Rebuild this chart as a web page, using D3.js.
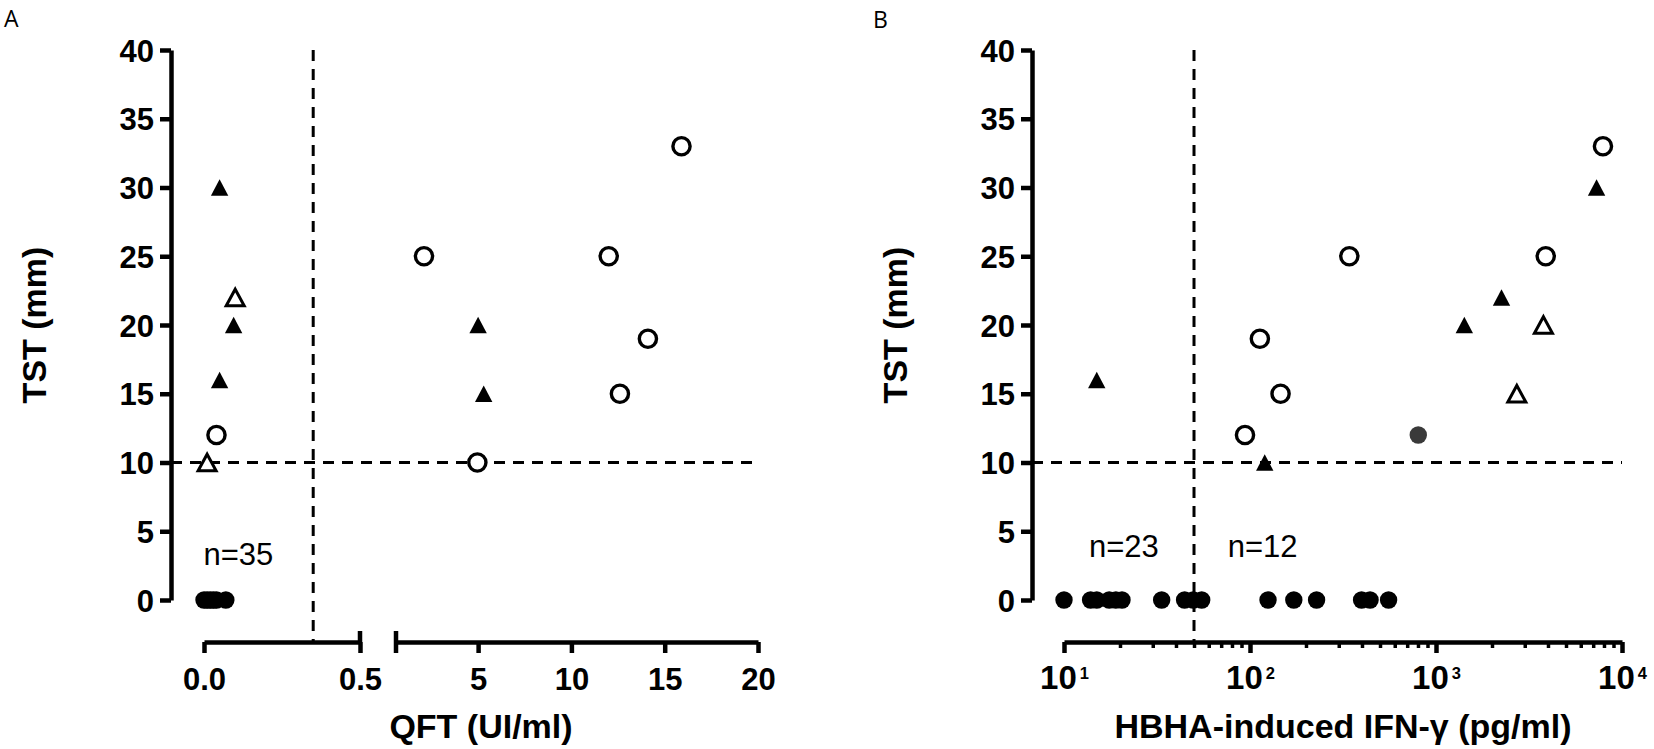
<!DOCTYPE html>
<html lang="en">
  <head>
    <meta charset="UTF-8" />
    <title>TST vs QFT and HBHA</title>
    <style>
      body { margin: 0; background: #fff; }
      svg { font-family: "Liberation Sans", Arial, sans-serif; }
      .axis path, .axis line { stroke: #000; stroke-width: 4.5; }
      .axis text { font-size: 31px; font-weight: bold; fill: #000; }
      .axis.log text { font-size: 33px; }
      .minor line { stroke: #000; stroke-width: 3.5; }
      .cut { stroke: #000; stroke-width: 3; stroke-dasharray: 11 8; fill: none; }
      .title { font-size: 34px; font-weight: bold; }
      .note { font-size: 31px; }
      .letter { font-family: "Open Sans", sans-serif; font-size: 23px; }
    </style>
  </head>
  <body>
    <svg id="chart" width="1654" height="749"></svg>
    <script src="https://cdn.jsdelivr.net/npm/d3@7"></script>
    <script>
      // TST (mm) ticks, shared by both panels
      const tstTicks = [0, 5, 10, 15, 20, 25, 30, 35, 40];

      // panel A : QFT (UI/ml) , [qft, tst]
      const qftZero = [[0, 0], [0.01, 0], [0.02, 0], [0.03, 0], [0.04, 0], [0.07, 0]];
      const qftOpenCircle = [[0.04, 12], [2.1, 25], [4.96, 10], [12, 25], [12.6, 15], [14.1, 19], [15.9, 33]];
      const qftFilledTri = [[0.05, 30], [0.095, 20], [0.05, 16], [5, 20], [5.3, 15]];
      const qftOpenTri = [[0.1, 22], [0.01, 10]];
      const qftLowTicks = [0, 0.5];
      const qftHighTicks = [5, 10, 15, 20];
      const qftCutoff = 0.35;

      // panel B : HBHA-induced IFN-g (pg/ml), [ifn, tst]
      const hbhaZero = [[10, 0], [13.9, 0], [15, 0], [17.5, 0], [19, 0], [20.5, 0], [33.5, 0], [44.5, 0],
        [49.5, 0], [55, 0], [125, 0], [172, 0], [228, 0], [398, 0], [442, 0], [556, 0]];
      const hbhaOpenCircle = [[7900, 33], [342, 25], [3890, 25], [113, 19], [146, 15], [94, 12]];
      const hbhaFilledTri = [[7300, 30], [2250, 22], [1420, 20], [120, 10], [15, 16]];
      const hbhaOpenTri = [[3780, 20], [2720, 15]];
      const hbhaGreyCircle = [[803, 12]];
      const hbhaTicks = [10, 100, 1000, 10000];
      const hbhaCutoff = 50;
      const tstCutoff = 10;

      const svg = d3.select("#chart");

      const y = d3.scaleLinear().domain([0, 40]).range([600, 50]);
      const axisY = 642;

      const triPath = (w, h) => `M0,${-h / 2}L${w},${h / 2}L${-w},${h / 2}Z`;

      const drawPoints = (g, data, fx, kind) => {
        let sel = g.append("g").selectAll("path").data(data).enter();
        if (kind === "dot" || kind === "grey") {
          sel.append("circle")
            .attr("cx", (d) => fx(d[0])).attr("cy", (d) => y(d[1]))
            .attr("r", 8.7)
            .attr("fill", kind === "grey" ? "#3a3a3a" : "#000");
        } else if (kind === "ring") {
          sel.append("circle")
            .attr("cx", (d) => fx(d[0])).attr("cy", (d) => y(d[1]))
            .attr("r", 8.6)
            .attr("fill", "#fff").attr("stroke", "#000").attr("stroke-width", 3.4);
        } else if (kind === "tri") {
          sel.append("path")
            .attr("d", triPath(8.7, 16.5))
            .attr("transform", (d) => `translate(${fx(d[0])},${y(d[1])})`)
            .attr("fill", "#000");
        } else {
          sel.append("path")
            .attr("d", triPath(9, 16.5))
            .attr("transform", (d) => `translate(${fx(d[0])},${y(d[1])})`)
            .attr("fill", "#fff").attr("stroke", "#000").attr("stroke-width", 3)
            .attr("stroke-linejoin", "miter");
        }
      };

      const drawYAxis = (x0, titleX) => {
        svg.append("g").attr("class", "axis")
          .attr("transform", `translate(${x0},0)`)
          .call(d3.axisLeft(y).tickValues(tstTicks).tickSize(11).tickSizeOuter(0).tickPadding(6))
          .call((g) => g.selectAll("text").attr("dy", "0.36em"));
        svg.append("text").attr("class", "title")
          .attr("transform", `translate(${titleX},${(y(0) + y(40)) / 2}) rotate(-90)`)
          .attr("text-anchor", "middle")
          .text("TST (mm)");
      };

      // ---------- panel A ----------
      const xLow = d3.scaleLinear().domain([0, 0.5]).range([204, 360]);
      const xHigh = d3.scaleLinear().domain([0.6, 20]).range([396, 758]);
      const qx = (v) => (v <= 0.5 ? xLow(v) : xHigh(v));
      const gA = svg.append("g");

      gA.append("line").attr("class", "cut")
        .attr("x1", 171).attr("x2", xHigh(20))
        .attr("y1", y(tstCutoff)).attr("y2", y(tstCutoff));
      gA.append("line").attr("class", "cut")
        .attr("x1", xLow(qftCutoff)).attr("x2", xLow(qftCutoff))
        .attr("y1", y(40)).attr("y2", axisY);

      drawPoints(gA, qftZero, qx, "dot");
      drawPoints(gA, qftOpenCircle, qx, "ring");
      drawPoints(gA, qftFilledTri, qx, "tri");
      drawPoints(gA, qftOpenTri, qx, "otri");

      drawYAxis(171, 46);

      const axLow = svg.append("g").attr("class", "axis")
        .attr("transform", `translate(0,${axisY})`)
        .call(d3.axisBottom(xLow).tickValues(qftLowTicks).tickFormat(d3.format(".1f"))
          .tickSize(11).tickSizeOuter(0).tickPadding(15));
      axLow.append("line").attr("x1", xLow(0.5)).attr("x2", xLow(0.5)).attr("y1", -11).attr("y2", 0);

      const axHigh = svg.append("g").attr("class", "axis")
        .attr("transform", `translate(0,${axisY})`)
        .call(d3.axisBottom(xHigh).tickValues(qftHighTicks).tickFormat(d3.format("d"))
          .tickSize(11).tickSizeOuter(0).tickPadding(15));
      axHigh.append("line").attr("x1", xHigh(0.6)).attr("x2", xHigh(0.6)).attr("y1", -11).attr("y2", 11);

      svg.append("text").attr("class", "title")
        .attr("x", (xLow(0) + xHigh(20)) / 2).attr("y", 738)
        .attr("text-anchor", "middle").text("QFT (UI/ml)");
      svg.append("text").attr("class", "note")
        .attr("x", xLow(0.11)).attr("y", y(2.55))
        .attr("text-anchor", "middle").text("n=35");
      svg.append("text").attr("class", "letter").attr("x", 4).attr("y", 27).text("A");

      // ---------- panel B ----------
      const xB = d3.scaleLog().domain([10, 10000]).range([1064, 1622]);
      const gB = svg.append("g");

      gB.append("line").attr("class", "cut")
        .attr("x1", 1032).attr("x2", xB(10000))
        .attr("y1", y(tstCutoff)).attr("y2", y(tstCutoff));
      gB.append("line").attr("class", "cut")
        .attr("x1", xB(hbhaCutoff)).attr("x2", xB(hbhaCutoff))
        .attr("y1", y(40)).attr("y2", axisY);

      drawPoints(gB, hbhaZero, xB, "dot");
      drawPoints(gB, hbhaOpenCircle, xB, "ring");
      drawPoints(gB, hbhaFilledTri, xB, "tri");
      drawPoints(gB, hbhaOpenTri, xB, "otri");
      drawPoints(gB, hbhaGreyCircle, xB, "grey");

      drawYAxis(1032, 907);

      const minorTicks = [];
      hbhaTicks.slice(0, 3).forEach((d) => {
        for (let k = 2; k <= 9; k++) minorTicks.push(k * d);
      });
      svg.append("g").attr("class", "axis minor")
        .attr("transform", `translate(0,${axisY})`)
        .call(d3.axisBottom(xB).tickValues(minorTicks).tickFormat("").tickSize(6).tickSizeOuter(0))
        .call((g) => g.select(".domain").remove());

      svg.append("g").attr("class", "axis log")
        .attr("transform", `translate(0,${axisY})`)
        .call(d3.axisBottom(xB).tickValues(hbhaTicks).tickFormat("").tickSize(11).tickSizeOuter(0).tickPadding(13))
        .call((g) => g.selectAll(".tick text").each(function (d) {
          const t = d3.select(this);
          t.append("tspan").text("10");
          t.append("tspan").attr("dx", 3).attr("dy", -10).attr("font-size", "0.5em")
            .text(Math.round(Math.log10(d)));
        }));

      svg.append("text").attr("class", "title")
        .attr("x", (xB(10) + xB(10000)) / 2).attr("y", 738)
        .attr("text-anchor", "middle").text("HBHA-induced IFN-γ (pg/ml)");
      svg.append("text").attr("class", "note")
        .attr("x", xB(21)).attr("y", y(3.1))
        .attr("text-anchor", "middle").text("n=23");
      svg.append("text").attr("class", "note")
        .attr("x", xB(117)).attr("y", y(3.1))
        .attr("text-anchor", "middle").text("n=12");
      svg.append("text").attr("class", "letter").attr("x", 873).attr("y", 28).text("B");
    </script>
  </body>
</html>
